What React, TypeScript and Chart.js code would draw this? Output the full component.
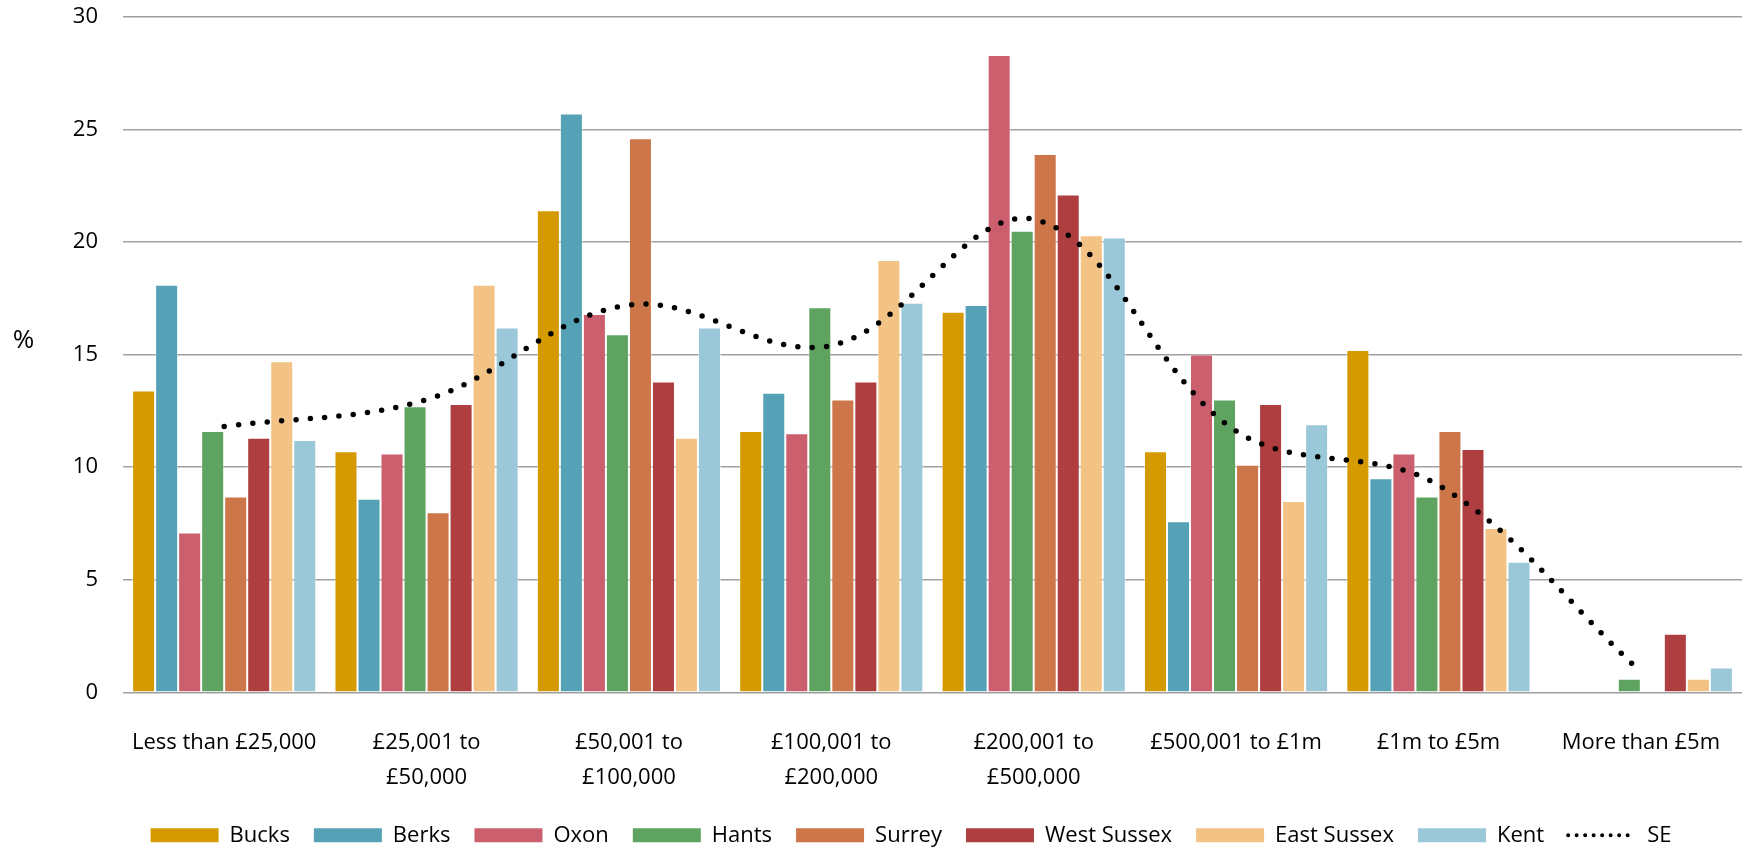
import React, { useEffect, useRef } from 'react';
import { Chart, registerables } from 'chart.js';

Chart.register(...registerables);

const categories: (string | string[])[] = [
  'Less than £25,000',
  ['£25,001 to', '£50,000'],
  ['£50,001 to', '£100,000'],
  ['£100,001 to', '£200,000'],
  ['£200,001 to', '£500,000'],
  '£500,001 to £1m',
  '£1m to £5m',
  'More than £5m',
];

const bucks = [13.4, 10.7, 21.4, 11.6, 16.9, 10.7, 15.2, 0];
const berks = [18.1, 8.6, 25.7, 13.3, 17.2, 7.6, 9.5, 0];
const oxon = [7.1, 10.6, 16.8, 11.5, 28.3, 15.0, 10.6, 0];
const hants = [11.6, 12.7, 15.9, 17.1, 20.5, 13.0, 8.7, 0.6];
const surrey = [8.7, 8.0, 24.6, 13.0, 23.9, 10.1, 11.6, 0];
const westSussex = [11.3, 12.8, 13.8, 13.8, 22.1, 12.8, 10.8, 2.6];
const eastSussex = [14.7, 18.1, 11.3, 19.2, 20.3, 8.5, 7.3, 0.6];
const kent = [11.2, 16.2, 16.2, 17.3, 20.2, 11.9, 5.8, 1.1];
const se = [11.8, 13.0, 17.2, 15.4, 21.0, 11.6, 9.2, 0.9];

const yMin = 0;
const yMax = 30;
const yStep = 5;

const seriesNames = ['Bucks', 'Berks', 'Oxon', 'Hants', 'Surrey', 'West Sussex', 'East Sussex', 'Kent'];
const seriesData = [bucks, berks, oxon, hants, surrey, westSussex, eastSussex, kent];
const seriesColors = ['#D49A00', '#55A2B6', '#CB5F6E', '#5EA35F', '#CD7649', '#AE3E3F', '#F3C385', '#9BC8D9'];

const FONT = '"Open Sans", "DejaVu Sans", sans-serif';

export default function App() {
  const ref = useRef<HTMLCanvasElement>(null);

  useEffect(() => {
    document.body.style.margin = '0';
    const canvas = ref.current;
    if (!canvas) return;

    const barSets = seriesNames.map((name, i) => ({
      type: 'bar' as const,
      label: name,
      data: seriesData[i],
      backgroundColor: seriesColors[i],
      borderColor: 'rgba(255,255,255,0.45)',
      borderWidth: (c: any) => (c.raw === 0 ? 0 : 1),
      borderSkipped: 'start' as const,
      categoryPercentage: 0.91,
      barPercentage: 1.0,
      order: 1,
    }));

    const lineSet = {
      type: 'line' as const,
      label: 'SE',
      data: se,
      borderColor: '#000',
      backgroundColor: '#000',
      borderWidth: 5.5,
      borderDash: [0, 14.4],
      borderCapStyle: 'round' as const,
      pointRadius: 0,
      pointHoverRadius: 0,
      tension: 0.36,
      fill: false,
      order: 0,
    };

    const percentPlugin = {
      id: 'percentLabel',
      afterDraw(chart: any) {
        const ctx = chart.ctx;
        ctx.save();
        ctx.font = `26px ${FONT}`;
        ctx.fillStyle = '#000';
        ctx.textAlign = 'center';
        ctx.textBaseline = 'middle';
        ctx.fillText('%', 23.5, 341);
        ctx.restore();
      },
    };

    const legendPos = {
      id: 'legendPos',
      afterLayout(chart: any) {
        const lg = chart.legend;
        if (!lg) return;
        const h = lg.height;
        lg.top = 835.3 - 24 - 11;
        lg.bottom = lg.top + h;
        lg.left = 80;
        lg.right = 1742;
      },
    };

    const chart = new Chart(canvas, {
      type: 'bar',
      data: {
        labels: categories as any,
        datasets: [...barSets, lineSet] as any,
      },
      options: {
        responsive: false,
        animation: false,
        devicePixelRatio: 1,
        layout: { padding: { top: 16.7, right: 4, left: 0, bottom: 0 } },
        plugins: {
          tooltip: { enabled: false },
          legend: {
            display: true,
            position: 'bottom',
            labels: {
              font: { family: FONT, size: 22 },
              color: '#000',
              usePointStyle: true,
              pointStyleWidth: 68,
              boxHeight: 14,
              padding: 24,
              sort: (a: any, b: any) => a.datasetIndex - b.datasetIndex,
              generateLabels: (ch: any) => {
                const items = (Chart.defaults.plugins.legend.labels as any).generateLabels(ch);
                return items.map((it: any) => {
                  if (it.text === 'SE') {
                    return { ...it, pointStyle: 'line', lineWidth: 4, lineDash: [0, 8.5], lineCap: 'round', strokeStyle: '#000', fillStyle: '#000' };
                  }
                  return { ...it, pointStyle: 'rect', lineWidth: 0, strokeStyle: 'rgba(0,0,0,0)' };
                });
              },
            },
          },
        },
        scales: {
          x: {
            grid: { display: false },
            border: { display: false },
            ticks: {
              font: { family: FONT, size: 22, lineHeight: 1.59 },
              color: '#000',
              padding: 25,
              maxRotation: 0,
              minRotation: 0,
              autoSkip: false,
            },
            afterFit: (s: any) => {
              s.height = 849 - 692.3 - 56;
            },
          },
          y: {
            min: yMin,
            max: yMax,
            ticks: {
              stepSize: yStep,
              padding: 25,
              font: { family: FONT, size: 22 },
              color: '#000',
            },
            grid: { color: '#a0a0a0', lineWidth: 1.5, drawTicks: false },
            border: { display: false },
            afterFit: (s: any) => {
              s.width = 123;
              s.paddingTop = 0;
              s.paddingBottom = 0;
            },
          },
        },
      },
      plugins: [percentPlugin, legendPos],
    } as any);

    return () => chart.destroy();
  }, []);

  return (
    <div style={{ position: 'fixed', left: 0, top: 0, width: 1746, height: 849, background: '#fff' }}>
      <canvas ref={ref} width={1746} height={849} style={{ display: 'block' }} />
    </div>
  );
}
